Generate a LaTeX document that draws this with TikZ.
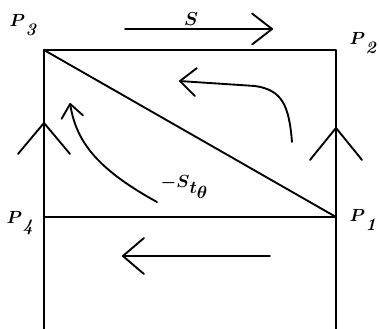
\RequirePackage{fix-cm}
\documentclass[tikz,border=0pt]{standalone}
\usepackage{amsmath}
\usepackage{tikz}
\usetikzlibrary{arrows.meta}
\newcommand{\plbl}[2]{$#1$\kern0.5pt\raisebox{-1.1ex}{$\mathit{#2}$}}

\begin{document}
\begin{tikzpicture}[
    x=0.3mm, y=-0.3mm,
    line/.style={line width=1.6pt, line cap=round, line join=round},
    arr/.style 2 args={line, -{Straight Barb[length=#1, width=#2, round]}},
    lbl/.style={font=\fontsize{15}{18}\selectfont\boldmath, inner sep=0pt},
    slbl/.style={font=\fontsize{16}{19}\selectfont\boldmath, inner sep=0pt},
]
\useasboundingbox (0,0) rectangle (379,329);

% corners of the box
\coordinate (P3) at (44,50);
\coordinate (P2) at (336,50);
\coordinate (P4) at (44,217);
\coordinate (P1) at (336,217);
\coordinate (B4) at (44,329);
\coordinate (B1) at (336,329);
\coordinate (V4) at (44,122);
\coordinate (V1) at (336,127);

\node[lbl] (p3) at (24,25)  {\plbl{P}{3}};
\node[lbl] (p2) at (364,43) {\plbl{P}{2}};
\node[lbl] (p4) at (21,223) {\plbl{P}{4}};
\node[lbl] (p1) at (364,220) {\plbl{P}{1}};
\node[slbl] (s)   at (191,19) {$S$};
\node[lbl] (st)  at (184,187) {$-S$\raisebox{-0.8ex}{$t$}\raisebox{-1.5ex}{$\theta$}};

% arrow ends
\coordinate (s0) at (125,29);
\coordinate (s1) at (273,29);
\coordinate (b0) at (270,256);
\coordinate (b1) at (122,256);
\coordinate (r0) at (292,142);
\coordinate (r1) at (255,86);
\coordinate (r2) at (179,81);
\coordinate (l0) at (157,202);
\coordinate (l1) at (70,103);

\draw[line] (B4) -- (P3) -- (P2) -- (B1);
\draw[line] (P4) -- (P1);
\draw[line] (P3) -- (P1);

\draw[arr={9.3mm}{15.6mm}] (P4) -- (V4);
\draw[arr={9.6mm}{15.6mm}] (P1) -- (V1);

\draw[arr={6mm}{9.3mm}] (s0) -- (s1);
\draw[arr={6.3mm}{10.8mm}] (b0) -- (b1);
\draw[arr={4.8mm}{8.4mm}] (r0) .. controls (289,105) and (282,90) .. (r1) -- (r2);
\draw[arr={4mm}{6.5mm}] (l0) .. controls (95,168) and (76,140) .. (l1);
\end{tikzpicture}
\end{document}
